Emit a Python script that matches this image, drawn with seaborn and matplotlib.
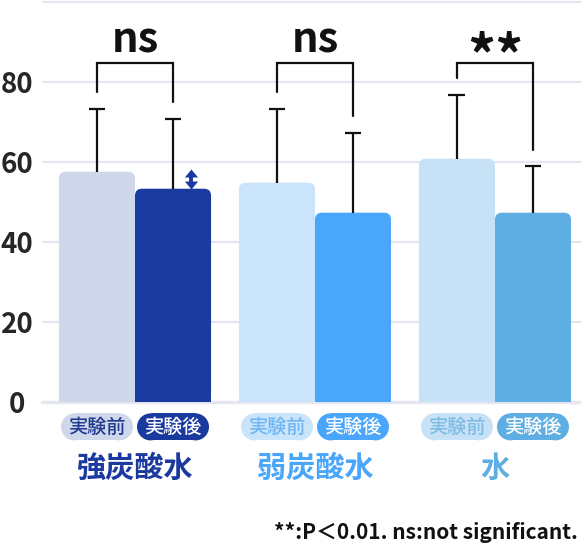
"""
Bar chart: before/after experiment comparison for three water types.
"""

import matplotlib.pyplot as plt
from matplotlib.patches import FancyBboxPatch, Ellipse, Rectangle
import seaborn as sns
import pandas as pd

# --- data -------------------------------------------------------------
groups = ['強炭酸水', '弱炭酸水', '水']
timings = ['実験前', '実験後']
before_mean = [57.5, 54.75, 60.75]
after_mean = [53.25, 47.25, 47.25]
before_sd = [15.7, 18.5, 16.0]
after_sd = [17.5, 20.0, 11.6]
sig_labels = ['ns', 'ns', '**']
y_ticks = [0, 20, 40, 60, 80]
footnote = '**:P＜0.01. ns:not significant.'

# colours per group and timing
bar_colors = {
    ('強炭酸水', '実験前'): '#CFD7EB', ('強炭酸水', '実験後'): '#1B3A9F',
    ('弱炭酸水', '実験前'): '#C9E4FB', ('弱炭酸水', '実験後'): '#4AA6FB',
    ('水', '実験前'): '#C7E2F6', ('水', '実験後'): '#5EAEE3',
}
pill_text = {
    ('強炭酸水', '実験前'): '#213A8E', ('弱炭酸水', '実験前'): '#6FB6F2',
    ('水', '実験前'): '#7EBCE4',
}
group_colors = ['#1B3A9F', '#4AA6FB', '#5EAEE3']
grid_color = '#E4E6F2'
ink = '#111111'

rows = []
for i, g in enumerate(groups):
    rows.append({'group': g, 'timing': '実験前', 'mean': before_mean[i], 'sd': before_sd[i]})
    rows.append({'group': g, 'timing': '実験後', 'mean': after_mean[i], 'sd': after_sd[i]})
df = pd.DataFrame(rows)

# --- figure -----------------------------------------------------------
sns.set_style('white')
plt.rcParams['font.family'] = ['Noto Sans CJK JP', 'DejaVu Sans']

fig = plt.figure(figsize=(5.81, 5.49), dpi=100)
ax = fig.add_axes([42 / 581, (549 - 401.7) / 549, 539 / 581, 401.7 / 549])

sns.barplot(data=df, x='group', y='mean', hue='timing', order=groups,
            hue_order=timings, width=0.845, gap=0, errorbar=None,
            legend=False, ax=ax)

ax.set_xlim(-0.5167, 2.478)
ax.set_ylim(0, 100.43)

# pixel scale: x 180 px/unit, y 4 px/unit
px_x = 1 / 180
px_y = 1 / 4
aspect = px_y / px_x

bars = sorted(ax.patches, key=lambda p: p.get_x())
keys = [(g, t) for g in groups for t in timings]
centers = {}
for patch, key in zip(bars, keys):
    x0, w, h = patch.get_x(), patch.get_width(), patch.get_height()
    color = bar_colors[key]
    patch.set_facecolor(color)
    patch.set_edgecolor('none')
    patch.set_height(max(h - 3, 0))
    patch.set_zorder(2)
    ax.add_patch(FancyBboxPatch((x0, 0), w, h,
                                boxstyle=f'round,pad=0,rounding_size={7 * px_x}',
                                mutation_aspect=aspect, fc=color, ec='none',
                                zorder=2))
    centers[key] = x0 + w / 2

# gridlines + baseline
for yv in y_ticks[1:] + [100]:
    ax.axhline(yv, color=grid_color, lw=1.6, zorder=0)
ax.axhline(0, color=grid_color, lw=2.4, zorder=1, clip_on=False)

# error bars (upper only)
cap = 0.047
for _, r in df.iterrows():
    xc = centers[(r['group'], r['timing'])]
    top = r['mean'] + r['sd']
    ax.vlines(xc, r['mean'], top, color=ink, lw=1.6, zorder=3)
    ax.hlines(top, xc - cap, xc + cap, color=ink, lw=1.6, zorder=3)

# significance brackets
bracket_y = 84.7
gap_y = 4.2
for i, g in enumerate(groups):
    xb = centers[(g, '実験前')]
    xa = centers[(g, '実験後')]
    yb = before_mean[i] + before_sd[i] + gap_y
    ya = after_mean[i] + after_sd[i] + gap_y
    ax.plot([xb, xb, xa, xa], [yb, bracket_y, bracket_y, ya], color=ink,
            lw=1.6, solid_joinstyle='miter', zorder=3)
    label = sig_labels[i]
    if label == 'ns':
        ax.text((xb + xa) / 2, 87.4, label, ha='center', va='baseline',
                fontsize=30, fontweight='bold', color=ink)
    else:
        ax.text((xb + xa) / 2, 85.6, label, ha='center', va='center',
                fontsize=40, fontweight='bold', color=ink)

# small change marker (double arrow) next to the strong-carbonated "after" bar
xm = centers[('強炭酸水', '実験後')] + 0.1
ym = after_mean[0]
up_head = [(-1, -0.6), (1, -0.6), (0, 0.6), (-1, -0.6)]
down_head = [(-1, 0.6), (1, 0.6), (0, -0.6), (-1, 0.6)]
ax.plot([xm, xm], [ym + 1.4, ym + 3.8], color=group_colors[0], lw=2.8,
        solid_capstyle='butt', zorder=3)
ax.plot([xm], [ym + 4.0], marker=up_head, ms=9.5, color=group_colors[0],
        mew=0, zorder=3)
ax.plot([xm], [ym + 1.0], marker=down_head, ms=9.5, color=group_colors[0],
        mew=0, zorder=3)

# axes styling
ax.set_yticks(y_ticks)
ax.set_yticklabels([str(v) for v in y_ticks])
ax.tick_params(axis='y', length=0, pad=18, labelsize=20)
for lab in ax.get_yticklabels():
    lab.set_fontweight('bold')
    lab.set_horizontalalignment('center')
ax.set_xticks([])
ax.set_xlabel('')
ax.set_ylabel('')
for s in ax.spines.values():
    s.set_visible(False)

# pill labels under each bar (rectangle + two half-round ends)
pill_w = 72 * px_x
pill_h = 27 * px_y
end_w = 27 * px_x
pill_y = -6.3
for (g, t), xc in centers.items():
    bg = bar_colors[(g, t)]
    fg = pill_text.get((g, t), 'white')
    inner = pill_w - end_w
    ax.add_patch(Rectangle((xc - inner / 2, pill_y - pill_h / 2), inner, pill_h,
                           fc=bg, ec='none', clip_on=False, zorder=2))
    for side in (-1, 1):
        ax.add_patch(Ellipse((xc + side * inner / 2, pill_y), end_w, pill_h,
                             fc=bg, ec='none', clip_on=False, zorder=2))
    ax.text(xc, pill_y + 0.1, t, ha='center', va='center', fontsize=13.8,
            color=fg, fontweight='medium', clip_on=False, zorder=3)

# group labels
for i, g in enumerate(groups):
    xc = (centers[(g, '実験前')] + centers[(g, '実験後')]) / 2
    ax.text(xc, -16.6, g, ha='center', va='center', fontsize=21,
            fontweight='bold', color=group_colors[i], clip_on=False)

fig.text(578 / 581, 1 - 539 / 549, footnote, ha='right', va='baseline',
         fontsize=15, fontweight='bold', color=ink)

plt.savefig('out.png', dpi=100)
plt.close()
